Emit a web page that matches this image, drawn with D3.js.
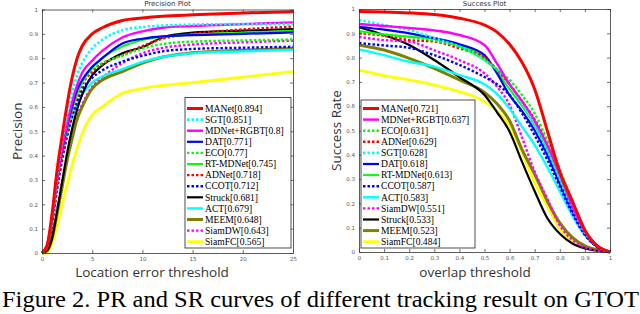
<!DOCTYPE html>
<html lang="en">
<head>
<meta charset="utf-8">
<script src="https://d3js.org/d3.v7.min.js"></script>
<style>
  body { margin: 0; background: #fff; }
  svg { display: block; }
</style>
</head>
<body>
<script>
const prThresholds = [0, 0.5, 1, 1.5, 2, 2.5, 3, 3.5, 4, 5, 6, 8, 10, 12, 15, 20, 25];
const srThresholds = [0, 0.1, 0.2, 0.3, 0.4, 0.5, 0.55, 0.6, 0.65, 0.7, 0.75, 0.8, 0.85, 0.9, 0.95, 1];

const yTicks = [0, 0.1, 0.2, 0.3, 0.4, 0.5, 0.6, 0.7, 0.8, 0.9, 1];
const prXTicks = [0, 5, 10, 15, 20, 25];
const srXTicks = [0, 0.1, 0.2, 0.3, 0.4, 0.5, 0.6, 0.7, 0.8, 0.9, 1];

// precision curves
const prMANet  = [0, 0.03, 0.16, 0.34, 0.48, 0.61, 0.72, 0.80, 0.85, 0.90, 0.925, 0.955, 0.965, 0.972, 0.978, 0.986, 0.991];
const prSGT    = [0, 0.03, 0.15, 0.32, 0.46, 0.57, 0.66, 0.73, 0.78, 0.84, 0.875, 0.915, 0.928, 0.934, 0.938, 0.94, 0.94];
const prMDNet  = [0, 0.03, 0.14, 0.30, 0.43, 0.53, 0.62, 0.69, 0.74, 0.79, 0.83, 0.885, 0.91, 0.925, 0.932, 0.94, 0.947];
const prDAT    = [0, 0.03, 0.14, 0.30, 0.42, 0.52, 0.60, 0.67, 0.71, 0.765, 0.80, 0.86, 0.88, 0.89, 0.895, 0.90, 0.906];
const prECO    = [0, 0.03, 0.15, 0.31, 0.43, 0.52, 0.60, 0.66, 0.70, 0.755, 0.78, 0.81, 0.84, 0.858, 0.868, 0.873, 0.877];
const prRT     = [0, 0.03, 0.14, 0.30, 0.42, 0.51, 0.59, 0.65, 0.70, 0.76, 0.80, 0.848, 0.875, 0.888, 0.897, 0.905, 0.913];
const prADNet  = [0, 0.02, 0.12, 0.27, 0.39, 0.49, 0.58, 0.64, 0.69, 0.745, 0.775, 0.813, 0.85, 0.88, 0.90, 0.918, 0.93];
const prCCOT   = [0, 0.02, 0.12, 0.26, 0.38, 0.48, 0.56, 0.62, 0.67, 0.72, 0.75, 0.786, 0.81, 0.828, 0.838, 0.843, 0.847];
const prStruck = [0, 0.01, 0.06, 0.17, 0.29, 0.41, 0.51, 0.59, 0.65, 0.73, 0.77, 0.82, 0.845, 0.885, 0.905, 0.913, 0.92];
const prACT    = [0, 0.03, 0.14, 0.29, 0.40, 0.49, 0.56, 0.61, 0.65, 0.70, 0.725, 0.755, 0.785, 0.805, 0.82, 0.828, 0.834];
const prMEEM   = [0, 0.01, 0.06, 0.16, 0.27, 0.38, 0.47, 0.55, 0.60, 0.675, 0.71, 0.745, 0.78, 0.805, 0.822, 0.833, 0.84];
const prSiamDW = [0, 0.01, 0.07, 0.18, 0.29, 0.39, 0.48, 0.56, 0.61, 0.683, 0.72, 0.78, 0.82, 0.842, 0.856, 0.865, 0.872];
const prSiamFC = [0, 0, 0.04, 0.11, 0.20, 0.28, 0.36, 0.43, 0.49, 0.567, 0.60, 0.656, 0.675, 0.688, 0.70, 0.722, 0.745];

// success curves
const srMANet  = [0.99, 0.988, 0.984, 0.977, 0.962, 0.934, 0.905, 0.855, 0.78, 0.67, 0.50, 0.33, 0.21, 0.09, 0.025, 0];
const srSGT    = [0.955, 0.934, 0.914, 0.88, 0.845, 0.79, 0.75, 0.69, 0.61, 0.52, 0.42, 0.30, 0.18, 0.08, 0.025, 0];
const srMDNet  = [0.938, 0.93, 0.922, 0.912, 0.893, 0.852, 0.775, 0.69, 0.62, 0.54, 0.44, 0.32, 0.19, 0.085, 0.025, 0];
const srDAT    = [0.927, 0.915, 0.90, 0.88, 0.855, 0.81, 0.735, 0.645, 0.58, 0.50, 0.40, 0.28, 0.17, 0.075, 0.02, 0];
const srECO    = [0.905, 0.895, 0.885, 0.87, 0.845, 0.79, 0.75, 0.708, 0.645, 0.57, 0.46, 0.34, 0.21, 0.09, 0.025, 0];
const srRT     = [0.91, 0.895, 0.886, 0.878, 0.852, 0.80, 0.74, 0.67, 0.60, 0.52, 0.42, 0.30, 0.18, 0.08, 0.025, 0];
const srADNet  = [0.90, 0.89, 0.872, 0.866, 0.838, 0.80, 0.75, 0.69, 0.62, 0.545, 0.45, 0.33, 0.20, 0.085, 0.025, 0];
const srCCOT   = [0.86, 0.85, 0.84, 0.81, 0.77, 0.72, 0.69, 0.646, 0.57, 0.48, 0.38, 0.27, 0.16, 0.07, 0.02, 0];
const srACT    = [0.834, 0.81, 0.783, 0.763, 0.728, 0.69, 0.65, 0.59, 0.515, 0.44, 0.35, 0.25, 0.15, 0.07, 0.025, 0];
const srSiamDW = [0.885, 0.872, 0.866, 0.83, 0.79, 0.735, 0.68, 0.605, 0.47, 0.33, 0.22, 0.11, 0.05, 0.02, 0.005, 0];
const srStruck = [0.925, 0.893, 0.852, 0.79, 0.72, 0.646, 0.575, 0.495, 0.37, 0.25, 0.14, 0.075, 0.035, 0.015, 0.005, 0];
const srMEEM   = [0.852, 0.831, 0.797, 0.756, 0.708, 0.657, 0.61, 0.54, 0.42, 0.32, 0.21, 0.12, 0.06, 0.025, 0.008, 0];
const srSiamFC = [0.749, 0.726, 0.708, 0.687, 0.66, 0.619, 0.58, 0.52, 0.41, 0.285, 0.19, 0.095, 0.045, 0.02, 0.008, 0];

// legend order + labels
const prLegend = ["MANet[0.894]", "SGT[0.851]", "MDNet+RGBT[0.8]", "DAT[0.771]", "ECO[0.77]", "RT-MDNet[0.745]",
  "ADNet[0.718]", "CCOT[0.712]", "Struck[0.681]", "ACT[0.679]", "MEEM[0.648]", "SiamDW[0.643]", "SiamFC[0.565]"];
const prKeys = ["MANet", "SGT", "MDNet", "DAT", "ECO", "RT", "ADNet", "CCOT", "Struck", "ACT", "MEEM", "SiamDW", "SiamFC"];
const prSeries = [prMANet, prSGT, prMDNet, prDAT, prECO, prRT, prADNet, prCCOT, prStruck, prACT, prMEEM, prSiamDW, prSiamFC];

const srLegend = ["MANet[0.721]", "MDNet+RGBT[0.637]", "ECO[0.631]", "ADNet[0.629]", "SGT[0.628]", "DAT[0.618]",
  "RT-MDNet[0.613]", "CCOT[0.587]", "ACT[0.583]", "SiamDW[0.551]", "Struck[0.533]", "MEEM[0.523]", "SiamFC[0.484]"];
const srKeys = ["MANet", "MDNet", "ECO", "ADNet", "SGT", "DAT", "RT", "CCOT", "ACT", "SiamDW", "Struck", "MEEM", "SiamFC"];
const srSeries = [srMANet, srMDNet, srECO, srADNet, srSGT, srDAT, srRT, srCCOT, srACT, srSiamDW, srStruck, srMEEM, srSiamFC];

// line styles per tracker
const styles = {
  MANet:  { color: "#ff0000", dash: null, w: 3 },
  SGT:    { color: "#00ffff", dash: "2.5,2", w: 2.6 },
  MDNet:  { color: "#ff00ff", dash: null, w: 2.4 },
  DAT:    { color: "#0000ff", dash: null, w: 2.2 },
  ECO:    { color: "#00ff00", dash: "2.5,2", w: 2.4 },
  RT:     { color: "#00ff00", dash: null, w: 2 },
  ADNet:  { color: "#ff0000", dash: "2.5,2", w: 2.4 },
  CCOT:   { color: "#0000ff", dash: "2.5,2", w: 2.4 },
  Struck: { color: "#000000", dash: null, w: 2.2 },
  ACT:    { color: "#00ffff", dash: null, w: 2.4 },
  MEEM:   { color: "#808000", dash: null, w: 3 },
  SiamDW: { color: "#ff00ff", dash: "2.5,2", w: 2.4 },
  SiamFC: { color: "#ffff00", dash: null, w: 2.8 }
};

const W = 640, H = 314;
const svg = d3.select("body").append("svg").attr("width", W).attr("height", H);
svg.append("rect").attr("width", W).attr("height", H).attr("fill", "#fff");

function drawPlot(opt) {
  const x = d3.scaleLinear().domain(opt.xDomain).range([opt.left, opt.right]);
  const y = d3.scaleLinear().domain([0, 1]).range([opt.bottom, opt.top]);
  const g = svg.append("g");

  // curves (last legend entry underneath)
  const line = d3.line().x(d => x(d[0])).y(d => y(d[1])).curve(d3.curveMonotoneX);
  for (let i = opt.keys.length - 1; i >= 0; i--) {
    const s = styles[opt.keys[i]];
    const pts = opt.thresholds.map((t, j) => [t, opt.series[i][j]]);
    g.append("path")
      .attr("d", line(pts))
      .attr("fill", "none")
      .attr("stroke", s.color)
      .attr("stroke-width", s.w)
      .attr("stroke-dasharray", s.dash);
  }

  // axes, MATLAB style box with inward ticks
  const ax = (a) => a.tickSizeInner(-3).tickSizeOuter(0).tickPadding(4);
  const fmt = d3.format("~g");
  g.append("g").attr("transform", `translate(0,${opt.bottom})`)
    .call(ax(d3.axisBottom(x)).tickValues(opt.xTicks).tickFormat(fmt));
  g.append("g").attr("transform", `translate(0,${opt.top})`)
    .call(ax(d3.axisTop(x)).tickValues(opt.xTicks).tickFormat(""));
  g.append("g").attr("transform", `translate(${opt.left},0)`)
    .call(ax(d3.axisLeft(y)).tickValues(yTicks).tickFormat(fmt));
  g.append("g").attr("transform", `translate(${opt.right},0)`)
    .call(ax(d3.axisRight(y)).tickValues(yTicks).tickFormat(""));
  g.selectAll(".domain").attr("stroke", "#333").attr("stroke-width", 0.8);
  g.selectAll(".tick line").attr("stroke", "#333").attr("stroke-width", 0.7);
  g.selectAll(".tick text").attr("font-family", "DejaVu Sans").attr("font-size", 5.5).attr("fill", "#555");

  // title + axis labels
  g.append("text").attr("x", (opt.left + opt.right) / 2).attr("y", 6)
    .attr("text-anchor", "middle").attr("font-family", "DejaVu Sans").attr("font-size", 7).attr("fill", "#333")
    .text(opt.title);
  g.append("text").attr("x", opt.xLabelX).attr("y", 277)
    .attr("text-anchor", "middle").attr("font-family", "Open Sans").attr("font-size", 13.5).attr("fill", "#333")
    .text(opt.xLabel);
  g.append("text").attr("transform", `translate(${opt.yLabelX},${(opt.top + opt.bottom) / 2}) rotate(-90)`)
    .attr("text-anchor", "middle").attr("font-family", "Open Sans").attr("font-size", 13.5).attr("fill", "#333")
    .text(opt.yLabel);

  // legend
  const lg = g.append("g");
  const rowH = 11.1, firstY = 108.5;
  lg.append("rect").attr("x", opt.legX).attr("y", opt.legTop)
    .attr("width", opt.legW).attr("height", 248 - opt.legTop)
    .attr("fill", "#fff").attr("stroke", "#222").attr("stroke-width", 0.8);
  opt.legend.forEach((label, i) => {
    const s = styles[opt.keys[i]];
    const yy = firstY + i * rowH;
    lg.append("line").attr("x1", opt.legX + 2).attr("x2", opt.legX + 18).attr("y1", yy).attr("y2", yy)
      .attr("stroke", s.color).attr("stroke-width", s.w).attr("stroke-dasharray", s.dash);
    lg.append("text").attr("x", opt.legX + 20).attr("y", yy + 3.2)
      .attr("font-family", "Liberation Serif").attr("font-size", 9.6).attr("fill", "#000")
      .text(label);
  });
}

drawPlot({
  left: 42, right: 293, top: 9.5, bottom: 253,
  xDomain: [0, 25], xTicks: prXTicks, thresholds: prThresholds,
  keys: prKeys, series: prSeries, legend: prLegend,
  title: "Precision Plot", xLabel: "Location error threshold", yLabel: "Precision",
  xLabelX: 152, yLabelX: 22, legX: 185, legTop: 97.5, legW: 106
});

drawPlot({
  left: 359, right: 610, top: 9, bottom: 252,
  xDomain: [0, 1], xTicks: srXTicks, thresholds: srThresholds,
  keys: srKeys, series: srSeries, legend: srLegend,
  title: "Success Plot", xLabel: "overlap threshold", yLabel: "Success Rate",
  xLabelX: 475, yLabelX: 341, legX: 361, legTop: 100, legW: 114
});

svg.append("text").attr("x", 2).attr("y", 307)
  .attr("font-family", "Liberation Serif").attr("font-size", 22.5).attr("fill", "#000")
  .attr("textLength", 637).attr("lengthAdjust", "spacingAndGlyphs")
  .text("Figure 2. PR and SR curves of different tracking result on GTOT");
</script>
</body>
</html>
